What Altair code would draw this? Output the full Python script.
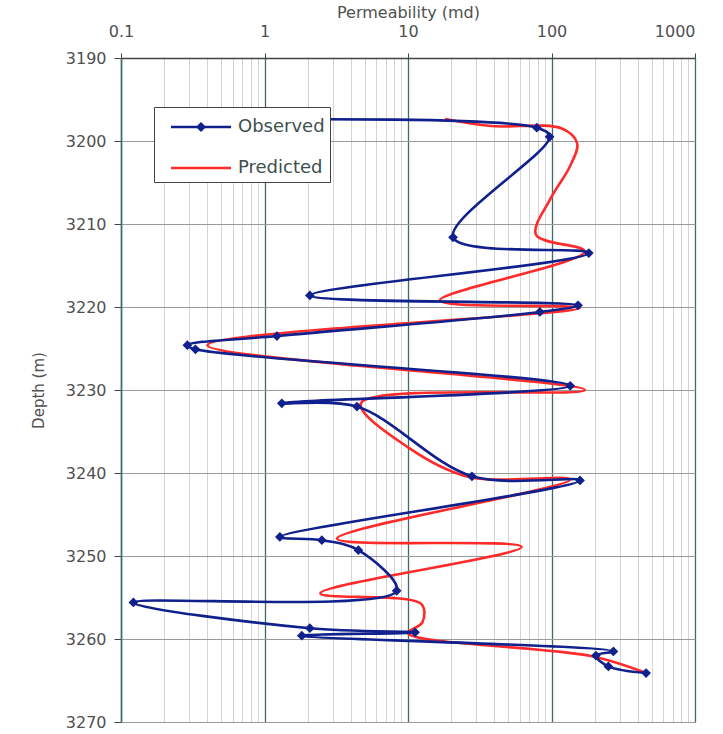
import altair as alt
import pandas as pd

# Observed permeability (md) vs depth (m)
obs_depth = [3197.4, 3198.4, 3199.5, 3211.6, 3213.5, 3218.6, 3219.8, 3220.6, 3223.5,
             3224.6, 3225.1, 3229.5, 3231.6, 3232.0, 3240.4, 3240.9, 3247.7, 3248.1,
             3249.3, 3254.2, 3255.6, 3258.7, 3259.2, 3259.6, 3261.5, 3262.0, 3263.3,
             3264.1]
obs_perm = [1.2, 79, 97, 20.6, 182, 2.07, 153, 83, 1.22,
            0.29, 0.33, 135, 1.32, 4.41, 27.9, 158, 1.28, 2.51,
            4.51, 8.34, 0.122, 2.07, 11.2, 1.82, 270, 204, 249,
            456]

# Predicted permeability (md) vs depth (m)
pred_depth = [3197.35, 3198.2, 3198.5, 3200.3, 3203.1, 3207.0, 3211.3, 3213.3, 3219.2,
              3220.1, 3224.6, 3230.0, 3231.6, 3237.0, 3240.5, 3240.8, 3247.9, 3248.9,
              3254.5, 3255.8, 3258.0, 3259.3, 3262.1, 3264.1]
pred_perm = [18.1, 38, 118, 151, 134, 98, 78, 170, 16.7,
             158, 0.40, 171, 4.7, 10.2, 26.9, 135, 3.2, 62,
             2.45, 12.4, 12.6, 10.0, 195, 456]

series_names = ["Observed", "Predicted"]
series_colors = ["#10208c", "#ff2b2b"]

x_major = [0.1, 1, 10, 100, 1000]
y_ticks = [3190, 3200, 3210, 3220, 3230, 3240, 3250, 3260, 3270]
x_ticks = [m * d for d in x_major[:-1] for m in range(1, 10)] + [x_major[-1]]

obs = pd.DataFrame({"depth": obs_depth, "perm": obs_perm, "series": "Observed",
                    "i": list(range(len(obs_depth)))})
pred = pd.DataFrame({"depth": pred_depth, "perm": pred_perm, "series": "Predicted",
                     "i": list(range(len(pred_depth)))})
df = pd.concat([obs, pred], ignore_index=True)

FONT = "DejaVu Sans"
TXT = "#505050"
is_major = "abs(log(datum.value)/LN10 - round(log(datum.value)/LN10)) < 0.001"

x_enc = alt.X(
    "perm:Q",
    scale=alt.Scale(type="log", domain=[0.1, 1000], nice=False),
    axis=alt.Axis(
        orient="top", values=x_ticks, title="Permeability (md)",
        labelExpr=f"{is_major} ? format(datum.value, '~g') : ''",
        labelAlign={"condition": {"test": "datum.value >= 999", "value": "right"}, "value": "center"},
        labelFont=FONT, labelFontSize=16, labelColor=TXT, labelPadding=14,
        labelFlush=False, labelOverlap=False,
        titleFont=FONT, titleFontSize=16, titleFontWeight="normal", titleColor=TXT,
        titlePadding=3,
        tickSize=5, tickColor="#444",
        tickOpacity={"condition": {"test": is_major, "value": 1}, "value": 0},
        domainColor="#444", domainWidth=1.5,
        grid=True,
        gridColor={"condition": {"test": is_major, "value": "#3f6a6a"}, "value": "#d4d4d4"},
        gridWidth={"condition": {"test": is_major, "value": 1.3}, "value": 1},
    ),
)
y_enc = alt.Y(
    "depth:Q",
    scale=alt.Scale(domain=[3190, 3270], reverse=True, nice=False, zero=False),
    axis=alt.Axis(
        values=y_ticks, title="Depth (m)", format="d",
        labelFont=FONT, labelFontSize=16, labelColor=TXT, labelPadding=8,
        titleFont=FONT, titleFontSize=15, titleFontWeight="normal", titleColor=TXT,
        titlePadding=19,
        tickSize=7, tickColor="#444", domainColor="#3f6a6a", domainWidth=1.5,
        grid=True, gridColor="#9a9a9a", gridWidth=1,
    ),
)

base = alt.Chart(df).encode(x=x_enc, y=y_enc, order=alt.Order("i:Q"))

pred_line = base.transform_filter("datum.series == 'Predicted'").mark_line(
    interpolate="catmull-rom", color=series_colors[1], strokeWidth=2.6, clip=True)
obs_line = base.transform_filter("datum.series == 'Observed'").mark_line(
    interpolate="catmull-rom", color=series_colors[0], strokeWidth=2.6, clip=True)
obs_pts = base.transform_filter("datum.series == 'Observed'").mark_point(
    shape="diamond", filled=True, size=95, color=series_colors[0], opacity=1)

# legend symbols: 60 px line (+ diamond for Observed), offset to the right of a 30 px symbol box
path_obs = "M-0.2,-0.09H3.8V0.09H-0.2Z M1.46,0L1.8,-0.34L2.14,0L1.8,0.34Z"
path_pred = "M-0.2,-0.09H3.8V0.09H-0.2Z"

# legend-only layer: no rows drawn, entries come from the fixed scale domains
legend_layer = base.transform_filter("false").mark_point(filled=True, opacity=1).encode(
    color=alt.Color("series:N",
                    scale=alt.Scale(domain=series_names, range=series_colors),
                    legend=alt.Legend(
                        title=None, orient="none", legendX=33, legendY=49,
                        symbolSize=900, symbolStrokeWidth=0,
                        labelFont=FONT, labelFontSize=18, labelColor="#3d4f4f",
                        labelExpr="datum.label + '     '",
                        labelOffset=49, rowPadding=17,
                        strokeColor="#444", fillColor="white", padding=5,
                    )),
    shape=alt.Shape("series:N", scale=alt.Scale(domain=series_names, range=[path_obs, path_pred])),
)

chart = alt.layer(pred_line, obs_line, obs_pts, legend_layer).properties(
    width=574, height=664,
    autosize=alt.AutoSizeParams(type="none"),
    padding={"left": 121, "top": 58, "right": 28, "bottom": 12},
).configure_view(stroke=None).configure(background="white")

chart.save("out.html", embed_options={"renderer": "svg", "actions": False})
